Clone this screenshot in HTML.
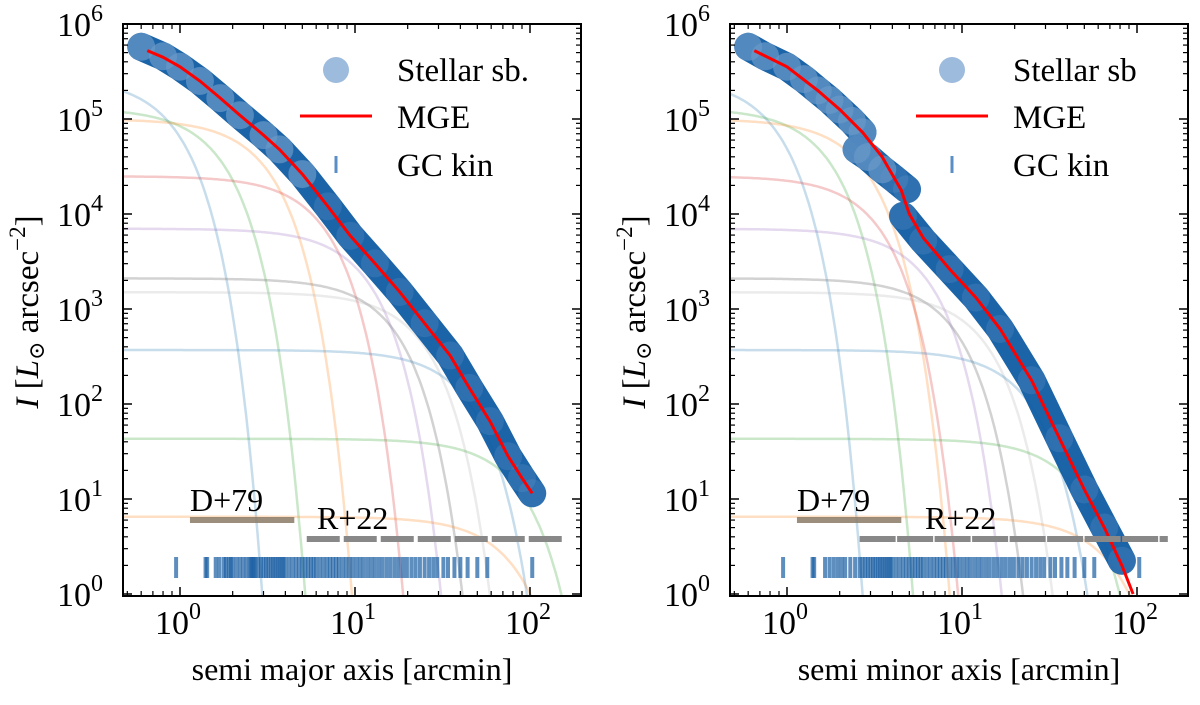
<!DOCTYPE html>
<html><head><meta charset="utf-8"><style>
body{margin:0;background:#fff}
svg text{font-family:"Liberation Serif","DejaVu Serif",serif;fill:#000}
</style></head><body>
<svg id="chart" width="1200" height="700" viewBox="0 0 1200 700" xmlns="http://www.w3.org/2000/svg">
<defs>
<clipPath id="clipL"><rect x="123" y="24" width="458" height="572"/></clipPath>
<clipPath id="clipR"><rect x="730" y="24" width="458" height="572"/></clipPath>
</defs>
</svg>
<script>
// ---- data ----
const compColors=["#1f77b4","#2ca02c","#ff7f0e","#d62728","#9467bd","#7f7f7f","#b0b0b0","#1f77b4","#2ca02c","#ff7f0e"];
const compI0=[2.7e5,1.3e5,1e5,2.5e4,7e3,2.1e3,1.5e3,370,43,6.5];
const compSigmaL=[0.59,1.07,2.0,4.18,7.36,10.5,15.4,27.9,55,51.8];
const compSigmaR=[0.54,1.08,1.77,2.11,4.0,5.7,8.6,15.1,29,46.6];
const sbL_R=[0.6,0.8,1.0,1.3,1.7,2.2,3,3.7,5,7,9.4,13,18,25,35,45,59,75,90,103];
const sbL_logI=[5.76,5.66,5.55,5.40,5.22,5.04,4.83,4.68,4.42,4.08,3.77,3.48,3.18,2.85,2.51,2.17,1.82,1.45,1.22,1.06];
const mgeL_R=[0.65,0.8,1.0,1.3,1.7,2.2,3,3.7,5,7,9.4,13,18,25,35,45,59,75,90,103];
const mgeL_logI=[5.72,5.65,5.55,5.40,5.22,5.04,4.83,4.68,4.42,4.08,3.77,3.48,3.18,2.85,2.51,2.17,1.82,1.45,1.22,1.06];
const sbR_seg1_R=[0.6,0.75,1.0,1.25,1.5,1.75,2.0,2.35,2.7];
const sbR_seg1_logI=[5.76,5.66,5.55,5.42,5.30,5.20,5.10,4.98,4.86];
const sbR_seg2_R=[2.5,2.9,3.5,4.1,4.85];
const sbR_seg2_logI=[4.68,4.60,4.47,4.37,4.26];
const sbR_seg3_R=[4.6,6,8.5,12,16.5,25,36,50,65,82];
const sbR_seg3_logI=[3.98,3.72,3.42,3.12,2.79,2.25,1.64,1.1,0.7,0.35];
const mgeR_R=[0.65,1,1.5,2,2.7,3.5,4.5,5,6,8.5,12,16.5,25,36,50,65,82,95];
const mgeR_logI=[5.72,5.55,5.3,5.1,4.86,4.6,4.25,4.0,3.75,3.42,3.12,2.79,2.25,1.64,1.1,0.7,0.3,0.0];
const gcL=[0.95,1.4,1.43,1.6,1.68,1.78,1.83,1.9,1.95,2.0,2.1,2.2,2.3,2.4,2.5,2.55,2.6,2.65,2.7,2.8,2.9,3.0,3.1,3.2,3.3,3.4,3.5,3.6,3.7,3.8,3.9,4.0,4.2,4.4,4.6,4.8,5.0,5.2,5.4,5.6,5.8,6.0,6.3,6.6,6.9,7.2,7.5,7.8,8.1,8.5,8.9,9.3,9.7,10.2,10.7,11.2,11.8,12.4,13,13.7,14.4,15.2,16,16.9,17.8,18.8,19.8,21,22.2,23.5,25,26.5,28,29.5,32,34,37,40,44,50,57,103];
const gcR=[0.95,1.4,1.43,1.65,1.75,1.85,1.95,2.05,2.15,2.3,2.45,2.6,2.7,2.8,2.9,3.0,3.1,3.2,3.3,3.4,3.5,3.6,3.7,3.8,3.9,4.0,4.2,4.4,4.6,4.8,5.0,5.2,5.4,5.6,5.8,6.0,6.3,6.6,6.9,7.2,7.5,7.8,8.1,8.5,8.9,9.3,9.7,10.2,10.7,11.2,11.8,12.4,13,13.7,14.4,15.2,16,16.9,17.8,18.8,19.8,21,22.2,23.5,25,26.5,28,29.5,32,34,37,40,44,50,57,103];
const yTicks=[0,1,2,3,4,5,6];
const xTicks=[0,1,2];
const d79=[1.14,4.5];
const r22L=[5.3,153];
const r22R=[2.6,150];

// ---- helpers ----
const NS="http://www.w3.org/2000/svg";
const svg=document.getElementById('chart');
const Y0=24,DEC=95,FT=24,FB=596;
function py(l){return Y0+DEC*(6-l);}
function mk(tag,attrs,parent){const e=document.createElementNS(NS,tag);for(const k in attrs)e.setAttribute(k,attrs[k]);(parent||svg).appendChild(e);return e;}

function panel(p){
  const g=mk('g',{});
  
  
  const px=R=>p.x0+175*Math.log10(R);
  const clip=mk('g',{'clip-path':'url(#'+p.clip+')'},g);
  compI0.forEach((I0,i)=>{
    const s=p.sig[i];let d='';
    for(let k=0;k<=300;k++){const lr=-0.35+k*2.6/300;const R=Math.pow(10,lr);const I=I0*Math.exp(-R*R/(2*s*s));if(I<0.3)break;d+=(k?'L':'M')+px(R).toFixed(1)+','+py(Math.log10(I)).toFixed(1);}
    const c=mk('path',{d:d,fill:'none',stroke:compColors[i],'stroke-width':2.5,'stroke-opacity':i===5?0.35:0.25},clip);
    
    
  });
  p.sb.forEach(([Rs,Ls])=>{
    let d='';Rs.forEach((R,k)=>{d+=(k?'L':'M')+px(R).toFixed(1)+','+py(Ls[k]).toFixed(1);});
    const band=mk('path',{d:d,fill:'none',stroke:'#0f5ca3','stroke-width':28,'stroke-linecap':'round','stroke-linejoin':'round','stroke-opacity':0.95},clip);
    
    
    Rs.forEach((R,k)=>{const c=mk('circle',{cx:px(R),cy:py(Ls[k]),r:14,fill:'#6a98c9','fill-opacity':Ls[k]>4.4?0.7:0.25},clip);
      
      });
  });
  let d='';p.mR.forEach((R,k)=>{d+=(k?'L':'M')+px(R).toFixed(1)+','+py(p.mL[k]).toFixed(1);});
  const m=mk('path',{d:d,fill:'none',stroke:'#ff0000','stroke-width':3},clip);
  
  
  p.gc.forEach(R=>{const t=mk('line',{x1:px(R),x2:px(R),y1:557,y2:578,stroke:'#1a5ea3','stroke-width':4,'stroke-opacity':0.7},clip);
    
    });
  const b1=mk('line',{x1:px(d79[0]),x2:px(d79[1]),y1:520,y2:520,stroke:'#8a7a66','stroke-width':6,'stroke-opacity':0.85},g);
  
  
  const b2=mk('line',{x1:px(p.r22[0]),x2:px(p.r22[1]),y1:539,y2:539,stroke:'#888','stroke-width':6,'stroke-dasharray':p.dash},g);
  
  
  const t1=mk('text',{x:px(d79[0]),y:511,'font-size':32},g);t1.textContent='D+79';
  
  
  const t2=mk('text',{x:p.r22x,y:529,'font-size':32},g);t2.textContent='R+22';
  
  
  const fx=p.fx;
  const fr=mk('rect',{x:fx,y:FT,width:458,height:FB-FT,fill:'none',stroke:'#000','stroke-width':2},g);
  
  
  yTicks.forEach(l=>{
    const y=py(l);
    mk('line',{x1:fx,x2:fx+9,y1:y,y2:y,stroke:'#000','stroke-width':1.5},g);
    mk('line',{x1:fx+458,x2:fx+449,y1:y,y2:y,stroke:'#000','stroke-width':1.5},g);
    if(l<6)for(let m=2;m<10;m++){const yy=py(l+Math.log10(m));mk('line',{x1:fx,x2:fx+5,y1:yy,y2:yy,stroke:'#000','stroke-width':1.2},g);mk('line',{x1:fx+458,x2:fx+453,y1:yy,y2:yy,stroke:'#000','stroke-width':1.2},g);}
    const t=mk('text',{x:fx-20,y:y+12,'font-size':34,'text-anchor':'end'},g);
    t.innerHTML='10<tspan dy="-15" font-size="24">'+l+'</tspan>';
    
    
  });
  for(let dcd=-1;dcd<=2;dcd++)for(let m=1;m<10;m++){
    const x=px(m*Math.pow(10,dcd));if(x<fx||x>fx+458)continue;const L=m===1?9:5;
    mk('line',{x1:x,x2:x,y1:FB,y2:FB-L,stroke:'#000','stroke-width':m===1?1.5:1.2},g);
    mk('line',{x1:x,x2:x,y1:FT,y2:FT+L,stroke:'#000','stroke-width':m===1?1.5:1.2},g);
  }
  xTicks.forEach(e=>{const t=mk('text',{x:px(Math.pow(10,e))-2,y:634,'font-size':34,'text-anchor':'middle'},g);
    t.innerHTML='10<tspan dy="-15" font-size="24">'+e+'</tspan>';
    
    });
  const xl=mk('text',{x:fx+229,y:680,'font-size':32,'text-anchor':'middle'},g);xl.textContent=p.xlabel;
  
  
  const yl=mk('text',{x:0,y:0,'font-size':33,'text-anchor':'middle',transform:'translate('+(fx-85)+',312) rotate(-90)'},g);
  yl.innerHTML='<tspan font-style="italic">I</tspan> [<tspan font-style="italic">L</tspan><tspan font-size="22" dy="6">⊙</tspan><tspan dy="-6"> arcsec</tspan><tspan dy="-13" font-size="23">−2</tspan><tspan dy="13">]</tspan>';
  
  
  const lg=mk('g',{},g);
  
  
  const lx=p.lx;
  mk('circle',{cx:lx,cy:70,r:13,fill:'#5b8ec4','fill-opacity':0.6},lg);
  mk('line',{x1:lx-36,x2:lx+36,y1:116,y2:116,stroke:'#ff0000','stroke-width':3},lg);
  mk('line',{x1:lx,x2:lx,y1:156,y2:173,stroke:'#5b8ec4','stroke-width':3},lg);
  [[p.sbLabel,81],['MGE',128],['GC kin',176]].forEach(([s,y])=>{const t=mk('text',{x:lx+61,y:y,'font-size':33},lg);t.textContent=s;
    
    });
}
panel({name:'left-panel',x0:180,fx:123,clip:'clipL',sig:compSigmaL,sb:[[sbL_R,sbL_logI]],mR:mgeL_R,mL:mgeL_logI,gc:gcL,r22:r22L,dash:'33,4',r22x:317,xlabel:'semi major axis [arcmin]',lx:336,sbLabel:'Stellar sb.'});
panel({name:'right-panel',x0:787,fx:730,clip:'clipR',sig:compSigmaR,sb:[[sbR_seg1_R,sbR_seg1_logI],[sbR_seg2_R,sbR_seg2_logI],[sbR_seg3_R,sbR_seg3_logI]],mR:mgeR_R,mL:mgeR_logI,gc:gcR,r22:r22R,dash:'36,1.5',r22x:925,xlabel:'semi minor axis [arcmin]',lx:952,sbLabel:'Stellar sb'});
</script>
</body></html>
